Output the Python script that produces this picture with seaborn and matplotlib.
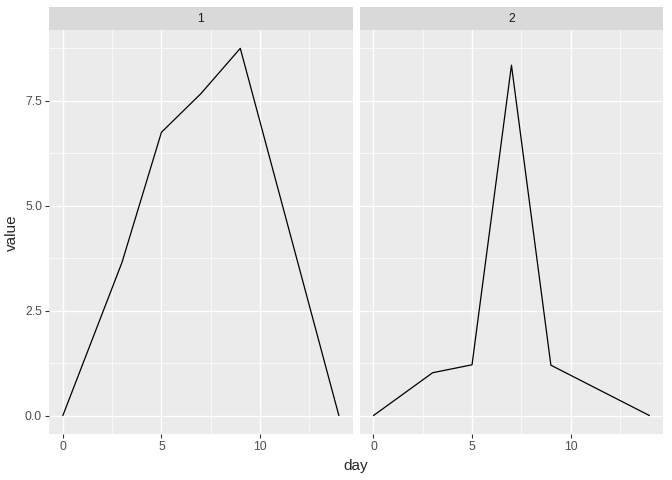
import numpy as np
import pandas as pd
import matplotlib
matplotlib.use('Agg')
import matplotlib.pyplot as plt
import seaborn as sns
from matplotlib.patches import Rectangle
from matplotlib.ticker import MultipleLocator

# values
day = [0, 3, 5, 7, 9, 14]
value_1 = [0, 3.65, 6.75, 7.67, 8.75, 0]
value_2 = [0, 1.02, 1.21, 8.35, 1.2, 0]
groups = ['1', '2']

df = pd.DataFrame({
    'day': day * 2,
    'value': value_1 + value_2,
    'group': [groups[0]] * len(day) + [groups[1]] * len(day),
})

sns.set_style('darkgrid')
plt.rcParams['font.family'] = ['Liberation Sans', 'DejaVu Sans']

fig, axes = plt.subplots(1, 2, figsize=(6.72, 4.8), dpi=100, sharey=True)
fig.subplots_adjust(left=0.073, right=0.987, bottom=0.096, top=0.9375, wspace=0.023)

for ax, g in zip(axes, groups):
    sub = df[df['group'] == g]
    sns.lineplot(data=sub, x='day', y='value', ax=ax, color='black', lw=0.9)
    ax.set_facecolor('#EBEBEB')
    ax.set_xlim(-0.7, 14.7)
    ax.set_ylim(-0.4375, 9.1875)
    ax.xaxis.set_major_locator(MultipleLocator(5))
    ax.xaxis.set_minor_locator(MultipleLocator(2.5))
    ax.yaxis.set_major_locator(MultipleLocator(2.5))
    ax.yaxis.set_minor_locator(MultipleLocator(1.25))
    ax.grid(which='major', color='white', lw=1.0)
    ax.grid(which='minor', color='white', lw=0.5)
    for s in ax.spines.values():
        s.set_visible(False)
    ax.tick_params(which='major', length=3, width=0.8, color='#333333',
                   labelcolor='#4D4D4D', labelsize=8.8, pad=2, left=True, bottom=True)
    ax.tick_params(which='minor', length=0)
    ax.set_xlabel('')
    ax.set_ylabel('')
    # facet strip
    ax.add_patch(Rectangle((0, 1.0), 1, 23 / 404, transform=ax.transAxes,
                           facecolor='#D9D9D9', edgecolor='none', clip_on=False))
    ax.text(0.5, 1.0 + 11.5 / 404, g, transform=ax.transAxes, ha='center', va='center',
            fontsize=8.8, color='#1A1A1A')

axes[0].yaxis.set_major_formatter(matplotlib.ticker.FormatStrFormatter('%.1f'))
axes[1].tick_params(axis='y', which='major', left=False)

fig.text(0.53, 0.03, 'day', ha='center', va='center', fontsize=11)
fig.text(0.018, 0.516, 'value', ha='center', va='center', rotation=90, fontsize=11)

fig.savefig('out.png', dpi=100, facecolor='white')
